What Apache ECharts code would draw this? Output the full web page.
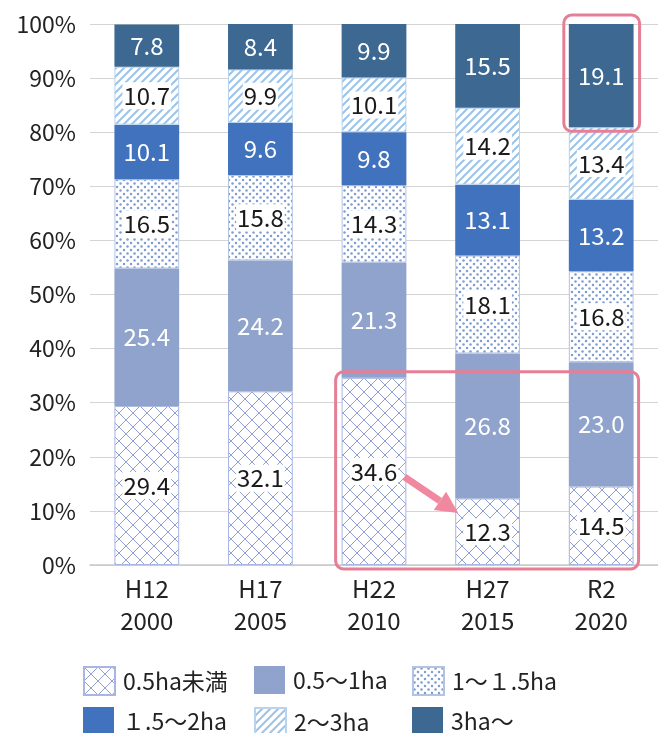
<!DOCTYPE html>
<html><head><meta charset="utf-8">
<script src="https://cdn.jsdelivr.net/npm/echarts@6/dist/echarts.min.js"></script>
<style>html,body{margin:0;padding:0;background:#fff}#c{width:658px;height:733px}</style>
</head><body><div id="c"></div>
<script>
const categories = ['H12\n2000','H17\n2005','H22\n2010','H27\n2015','R2\n2020'];
const seriesNames = ['0.5ha未満','0.5～1ha','1～１.5ha','１.5～2ha','2～3ha','3ha～'];
const lt05   = [29.4, 32.1, 34.6, 12.3, 14.5];
const s05to1 = [25.4, 24.2, 21.3, 26.8, 23.0];
const s1to15 = [16.5, 15.8, 14.3, 18.1, 16.8];
const s15to2 = [10.1, 9.6, 9.8, 13.1, 13.2];
const s2to3  = [10.7, 9.9, 10.1, 14.2, 13.4];
const s3up   = [7.8, 8.4, 9.9, 15.5, 19.1];
const seriesData = [lt05, s05to1, s1to15, s15to2, s2to3, s3up];

const FONT = '"Noto Sans CJK JP","Noto Sans",sans-serif';

function makeTile(size, draw){
  const c = document.createElement('canvas');
  c.width = size; c.height = size;
  const g = c.getContext('2d');
  g.fillStyle = '#fff'; g.fillRect(0,0,size,size);
  draw(g, size);
  return c;
}
const crossTile = makeTile(14, (g,s)=>{
  g.strokeStyle = '#8f9fd8'; g.lineWidth = 1;
  g.beginPath();
  g.moveTo(-1,-1); g.lineTo(s+1,s+1);
  g.moveTo(s+1,-1); g.lineTo(-1,s+1);
  g.stroke();
});
const dotTile = makeTile(7, (g,s)=>{
  g.fillStyle = '#7f9dd0';
  [[1.5,1.5],[5,5]].forEach(([x,y])=>{g.beginPath();g.arc(x,y,1.25,0,Math.PI*2);g.fill();});
});
const stripeTile = makeTile(8, (g,s)=>{
  g.strokeStyle = '#9cc3e8'; g.lineWidth = 2;
  g.beginPath();
  g.moveTo(-2,s+2); g.lineTo(s+2,-2);
  g.moveTo(-s/2-2, s/2+2); g.lineTo(s/2+2, -s/2-2);
  g.moveTo(s/2-2, 1.5*s+2); g.lineTo(1.5*s+2, s/2-2);
  g.stroke();
});

const styles = [
  {color:{image:crossTile, repeat:'repeat'}, borderColor:'#a9b5e3', borderWidth:1, labelDark:true},
  {color:'#8fa3cc', labelDark:false},
  {color:{image:dotTile, repeat:'repeat'}, borderColor:'#b3c3e3', borderWidth:1, labelDark:true},
  {color:'#4172bd', labelDark:false},
  {color:{image:stripeTile, repeat:'repeat'}, borderColor:'#b7d3ef', borderWidth:1, labelDark:true},
  {color:'#3c6892', labelDark:false}
];

const series = seriesNames.map((name,i)=>({
  name, type:'bar', stack:'total', barWidth:'57%',
  data: seriesData[i],
  itemStyle:{color:styles[i].color, borderColor:styles[i].borderColor||styles[i].color, borderWidth:styles[i].borderWidth||0},
  emphasis:{disabled:true},
  label:{
    show:true, position:'inside',
    formatter:p=>p.value.toFixed(1),
    fontFamily:FONT, fontSize:24,
    color: styles[i].labelDark ? '#1a1a1a' : '#ffffff',
    backgroundColor: styles[i].labelDark ? '#ffffff' : 'transparent',
    padding: styles[i].labelDark ? [0,1,0,1] : 0,
    lineHeight:27
  }
}));

const legendPos = [[83,666],[254,666],[412,666],[83,707],[254,707],[412,707]];
const legends = seriesNames.map((n,i)=>({
  data:[n], left:legendPos[i][0], top:legendPos[i][1], padding:0,
  itemWidth:31, itemHeight:28, itemGap:0, selectedMode:false,
  icon:'rect',
  textStyle:{fontFamily:FONT, fontSize:23, color:'#222', padding:[0,0,0,3]}
}));

const chart = echarts.init(document.getElementById('c'), null, {renderer:'canvas'});
chart.setOption({
  animation:false,
  grid:{left:90, right:0, top:24, bottom:168},
  legend: legends,
  xAxis:{type:'category', data:categories,
    axisTick:{show:false},
    axisLine:{lineStyle:{color:'#c8c8c8', width:1.5}},
    axisLabel:{fontFamily:FONT, fontSize:24, color:'#222', lineHeight:32, margin:8}
  },
  yAxis:{type:'value', min:0, max:100, interval:10,
    axisLabel:{formatter:'{value}%', fontFamily:FONT, fontSize:23, color:'#222', margin:14},
    splitLine:{lineStyle:{color:'#d4d4d4', width:1}},
    axisLine:{show:false}, axisTick:{show:false}
  },
  series
});

// annotations positioned through the chart's own scales
const px = (ci, v) => chart.convertToPixel({gridIndex:0}, [ci, v]);
const band = px(1,0)[0] - px(0,0)[0];
const half = band*0.57/2;
const pink = '#e57f95';
const r2Top = px(4,100), r2Bot = px(4,100 - s3up[4]);
const h22 = px(2, lt05[2]), zero = px(4,0);
const aStart = px(2,16.3), aEnd = px(3,9.6);
const sx = aStart[0]+half-2, sy = aStart[1];
const ex = aEnd[0]-half+3, ey = aEnd[1];
const ang = Math.atan2(ey-sy, ex-sx);
const hl = 22, hw = 11;
const bx = ex - hl*Math.cos(ang), by = ey - hl*Math.sin(ang);
const nx = -Math.sin(ang), ny = Math.cos(ang);
chart.setOption({graphic:[
  {type:'rect', shape:{x:r2Top[0]-half-5, y:r2Top[1]-9, width:2*half+11, height:r2Bot[1]-r2Top[1]+13, r:8},
   style:{fill:'none', stroke:pink, lineWidth:3}, z:100},
  {type:'rect', shape:{x:h22[0]-half-6, y:h22[1]-6, width:(zero[0]+half+5)-(h22[0]-half-6), height:zero[1]+4-(h22[1]-6), r:8},
   style:{fill:'none', stroke:pink, lineWidth:3}, z:100},
  {type:'line', shape:{x1:sx, y1:sy, x2:bx, y2:by}, style:{stroke:'#f0899f', lineWidth:7}, z:101},
  {type:'polygon', shape:{points:[[ex,ey],[bx+nx*hw,by+ny*hw],[bx-nx*hw,by-ny*hw]]}, style:{fill:'#f0899f'}, z:101}
]});
</script></body></html>
